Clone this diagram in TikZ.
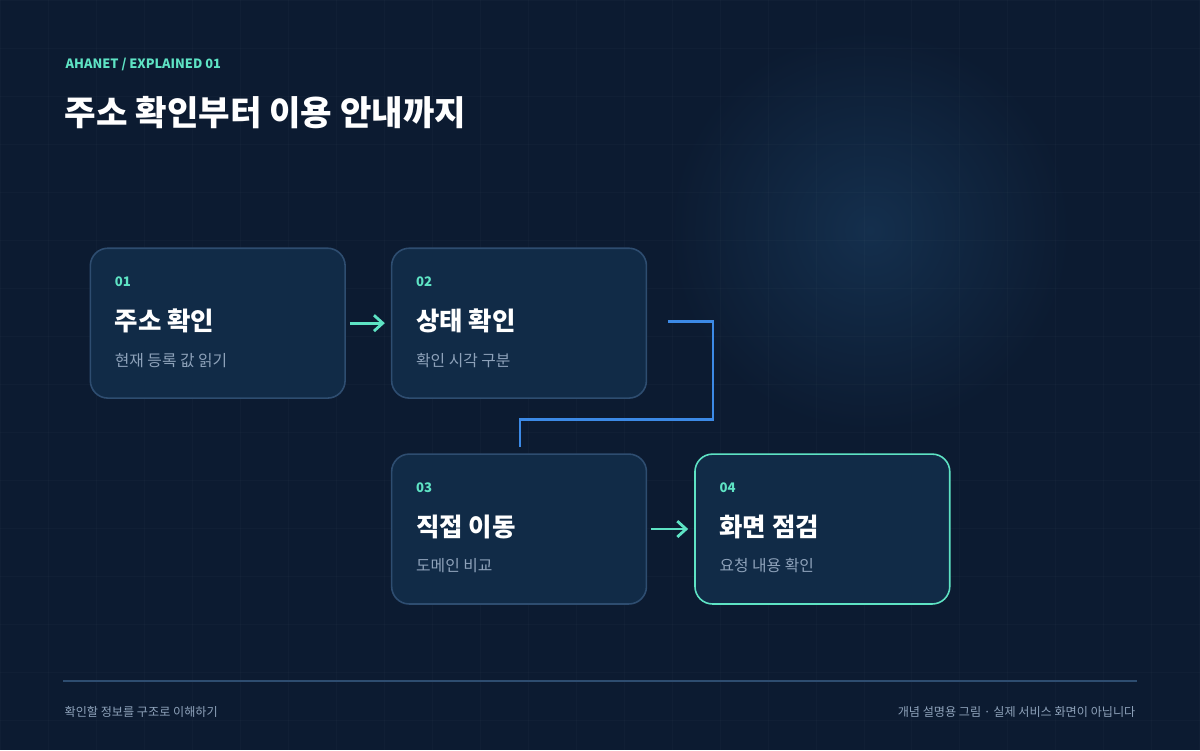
\documentclass[tikz,border=0pt]{standalone}
\usepackage{fontspec}
\setmainfont{Noto Sans CJK KR}
\usetikzlibrary{arrows.meta}
\definecolor{bg}{HTML}{0C1B31}
\definecolor{glow}{HTML}{142F4D}
\definecolor{boxfill}{HTML}{112B47}
\definecolor{boxline}{HTML}{2E4D70}
\definecolor{teal}{HTML}{5EE3C4}
\definecolor{link}{HTML}{3C8AE6}
\definecolor{muted}{HTML}{8EA2BA}
\tikzset{box/.style={draw=boxline, line width=0.9pt, fill=boxfill, rounded corners=10pt, minimum width=5.1cm, minimum height=3cm},
         num/.style={anchor=west, inner sep=0pt, text=teal, font=\fontsize{7.5}{9}\selectfont\bfseries},
         head/.style={anchor=west, inner sep=0pt, text=white, font=\fontsize{14.5}{17}\selectfont\bfseries},
         sub/.style={anchor=west, inner sep=0pt, text=muted, font=\fontsize{9}{11}\selectfont},
         flow/.style={-{Straight Barb[length=5pt,width=9pt]}, teal, line width=1.6pt}}
\begin{document}
\begin{tikzpicture}[x=0.02cm, y=-0.02cm]
\fill[bg] (0,0) rectangle (1200,750);
\shade[inner color=glow, outer color=bg] (870,230) circle (200);
\foreach \g in {0,48,...,1200}
  \draw[white, opacity=0.02] (\g,0) -- (\g,750);
\foreach \g in {0,48,...,750}
  \draw[white, opacity=0.02] (0,\g) -- (1200,\g);
\useasboundingbox (0,0) rectangle (1200,750);
% header
\node[anchor=west, inner sep=0pt, text=teal, font=\fontsize{7.3}{8}\selectfont\bfseries] (tag) at (65,64) {AHANET / EXPLAINED 01};
\node[anchor=west, inner sep=0pt, text=white, font=\fontsize{19.5}{22}\selectfont\bfseries] (title) at (64,112) {주소 확인부터 이용 안내까지};
% boxes
\node[box] (b1) at (217.5,323) {};
\node[box] (b2) at (519,323) {};
\node[box] (b3) at (519,529) {};
\node[box, draw=teal] (b4) at (822.5,529) {};
\foreach \b/\n/\h/\s in {b1/01/주소 확인/현재 등록 값 읽기, b2/02/상태 확인/확인 시각 구분, b3/03/직접 이동/도메인 비교, b4/04/화면 점검/요청 내용 확인}{
  \node[num] (\b n) at ([xshift=0.5cm, yshift=0.82cm]\b.west) {\n};
  \node[head] (\b h) at ([xshift=0.5cm, yshift=0.04cm]\b.west) {\h};
  \node[sub] (\b s) at ([xshift=0.5cm, yshift=-0.74cm]\b.west) {\s};
}
% connectors
\draw[flow] ([xshift=0.08cm]b1.east) -- ([xshift=-0.12cm]b2.west);
\draw[flow] ([xshift=0.08cm]b3.east) -- ([xshift=-0.12cm]b4.west);
\coordinate (c1) at (668,321);
\coordinate (c2) at (520,447);
\draw[link, line width=1.6pt] (c1) -- (713,321) -- (713,419) -- (520,419) -- (c2);
% footer
\draw[boxline, line width=0.8pt] (63,681) -- (1137,681);
\node[anchor=west, inner sep=0pt, text=muted, font=\fontsize{6.9}{8}\selectfont] (fl) at (64,712) {확인할 정보를 구조로 이해하기};
\node[anchor=east, inner sep=0pt, text=muted, font=\fontsize{6.9}{8}\selectfont] (fr) at (1136,712) {개념 설명용 그림 · 실제 서비스 화면이 아닙니다};
\end{tikzpicture}
\end{document}
